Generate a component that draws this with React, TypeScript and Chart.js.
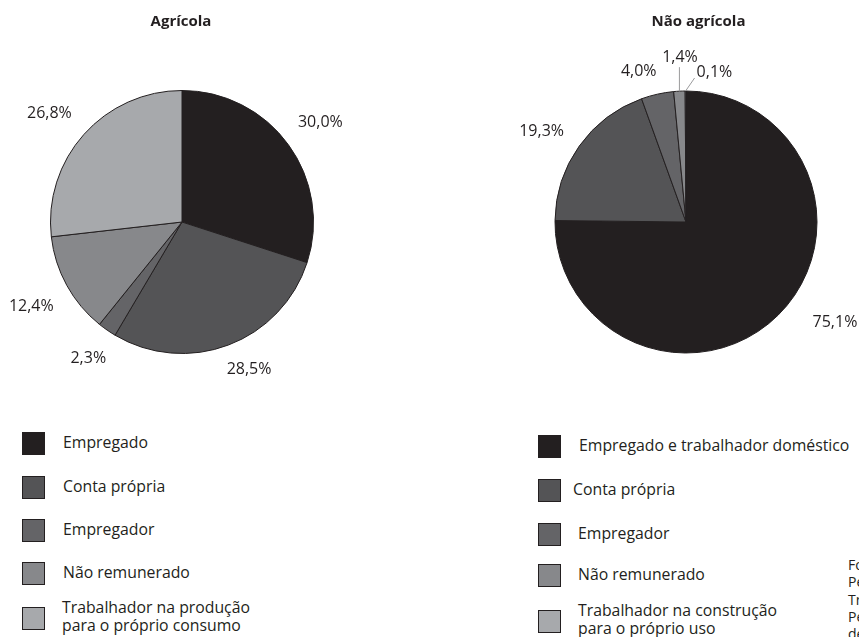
import React, { useEffect, useRef } from "react";
import { Chart, registerables } from "chart.js";

Chart.register(...registerables);

// ---- data ----
const agricolaTitle = "Agrícola";
const naoAgricolaTitle = "Não agrícola";

const agricolaLabels = [
  "Empregado",
  "Conta própria",
  "Empregador",
  "Não remunerado",
  "Trabalhador na produção\npara o próprio consumo",
];
const agricolaValues = [30.0, 28.5, 2.3, 12.4, 26.8];

const naoAgricolaLabels = [
  "Empregado e trabalhador doméstico",
  "Conta própria",
  "Empregador",
  "Não remunerado",
  "Trabalhador na construção\npara o próprio uso",
];
const naoAgricolaValues = [75.1, 19.3, 4.0, 1.4, 0.1];

const sliceColors = ["#231f20", "#545456", "#646467", "#87888b", "#a7a9ac"];

const footnoteLines = [
  "Fonte: IBGE, Diretoria de",
  "Pesquisas, Coordenação de",
  "Trabalho e Rendimento,",
  "Pesquisa Nacional por Amostra",
  "de Domicílios 2009.",
];

const FONT = '"Open Sans", "DejaVu Sans", sans-serif';
const INK = "#231f20";

const fmtPct = (v: number) => v.toFixed(1).replace(".", ",") + "%";

const pieLabelPlugin = {
  id: "pieLabels",
  afterDatasetsDraw(chart: any, _args: any, opts: any) {
    const { ctx } = chart;
    const meta = chart.getDatasetMeta(0);
    const data = chart.data.datasets[0].data as number[];
    const overrides = opts.overrides || {};
    ctx.save();
    ctx.font = opts.font;
    ctx.fillStyle = opts.color;
    const capHalf = opts.capHalf;
    meta.data.forEach((el: any, i: number) => {
      const { x, y, startAngle, endAngle, outerRadius } = el.getProps(
        ["x", "y", "startAngle", "endAngle", "outerRadius"],
        true
      );
      const ov = overrides[i] || {};
      const mid = (startAngle + endAngle) / 2 + ((ov.shiftDeg || 0) * Math.PI) / 180;
      const text = fmtPct(data[i]);
      const w = ctx.measureText(text).width;
      const ux = Math.cos(mid);
      const uy = Math.sin(mid);
      if (ov.leader) {
        const sx = x + ux * outerRadius;
        const sy = y + uy * outerRadius;
        const ex = sx + ov.leader[0];
        const ey = sy + ov.leader[1];
        ctx.strokeStyle = opts.leaderColor;
        ctx.lineWidth = 1;
        ctx.beginPath();
        ctx.moveTo(sx, sy);
        ctx.lineTo(ex, ey);
        ctx.stroke();
        ctx.textAlign = ov.align || "center";
        ctx.textBaseline = "alphabetic";
        ctx.fillText(text, ex + ov.text[0], ey + ov.text[1]);
      } else {
        const gap = ov.gap ?? opts.gap;
        const d = outerRadius + gap + (w / 2) * Math.abs(ux) + capHalf * Math.abs(uy);
        ctx.textAlign = "center";
        ctx.textBaseline = "alphabetic";
        ctx.fillText(text, x + ux * d, y + uy * d + capHalf);
      }
    });
    ctx.restore();
  },
};

function PieCanvas(props: {
  left: number;
  width: number;
  height: number;
  padding: { left: number; right: number; top: number; bottom: number };
  labels: string[];
  values: number[];
  overrides: Record<number, any>;
}) {
  const ref = useRef<HTMLCanvasElement | null>(null);
  useEffect(() => {
    if (!ref.current) return;
    const chart = new Chart(ref.current, {
      type: "pie",
      data: {
        labels: props.labels,
        datasets: [
          {
            data: props.values,
            backgroundColor: sliceColors,
            borderColor: INK,
            borderWidth: 1,
          },
        ],
      },
      options: {
        responsive: false,
        animation: false,
        layout: { padding: props.padding },
        plugins: {
          legend: { display: false },
          tooltip: { enabled: false },
          title: { display: false },
          pieLabels: {
            font: `16px ${FONT}`,
            color: INK,
            gap: 18,
            capHalf: 5.8,
            leaderColor: "#9a9a9c",
            overrides: props.overrides,
          },
        } as any,
      },
      plugins: [pieLabelPlugin as any],
    });
    return () => chart.destroy();
  }, []);
  return (
    <canvas
      ref={ref}
      width={props.width}
      height={props.height}
      style={{ position: "absolute", left: props.left, top: 0, width: props.width, height: props.height }}
    />
  );
}

function Legend(props: { boxX: number; textX: number[]; tops: number[]; labels: string[] }) {
  return (
    <>
      {props.labels.map((lab, i) => {
        const lines = lab.split("\n");
        const center = props.tops[i] + 11.5 + (lines.length > 1 ? -3 : -2);
        return (
          <React.Fragment key={i}>
            <div
              style={{
                position: "absolute",
                left: props.boxX,
                top: props.tops[i],
                width: 23,
                height: 23,
                boxSizing: "border-box",
                border: `1px solid ${INK}`,
                background: sliceColors[i],
              }}
            />
            <div
              style={{
                position: "absolute",
                left: props.textX[i],
                top: center,
                transform: "translateY(-50%)",
                fontSize: 15.8,
                lineHeight: "18px",
                whiteSpace: "pre",
                color: INK,
              }}
            >
              {lab}
            </div>
          </React.Fragment>
        );
      })}
    </>
  );
}

export default function App() {
  const titleStyle: React.CSSProperties = {
    position: "absolute",
    top: 10,
    fontSize: 15,
    fontWeight: 700,
    lineHeight: "20px",
    transform: "translateX(-50%)",
    whiteSpace: "nowrap",
    color: INK,
  };
  return (
    <div
      style={{
        position: "fixed",
        left: 0,
        top: 0,
        width: 859,
        height: 637,
        overflow: "hidden",
        background: "#ffffff",
        fontFamily: FONT,
      }}
    >
      <PieCanvas
        left={0}
        width={430}
        height={400}
        padding={{ left: 50, right: 116, top: 90, bottom: 46 }}
        labels={agricolaLabels}
        values={agricolaValues}
        overrides={{ 1: { shiftDeg: -3.9, gap: 15 }, 4: { shiftDeg: -2, gap: 20 } }}
      />
      <PieCanvas
        left={430}
        width={429}
        height={400}
        padding={{ left: 124.5, right: 41.5, top: 90.5, bottom: 46.5 }}
        labels={naoAgricolaLabels}
        values={naoAgricolaValues}
        overrides={{
          0: { shiftDeg: -11.7, gap: 26 },
          1: { shiftDeg: -3, gap: 18 },
          2: { shiftDeg: -4.7, gap: 17 },
          3: { leader: [0, -24], text: [0.6, -5.5], align: "center" },
          4: { leader: [9, -13], text: [2, -1.5], align: "left" },
        }}
      />
      <div style={{ ...titleStyle, left: 181 }}>{agricolaTitle}</div>
      <div style={{ ...titleStyle, left: 698.5 }}>{naoAgricolaTitle}</div>
      <Legend
        boxX={22}
        textX={[63, 63, 63, 63, 62]}
        tops={[432, 476, 519, 562, 607]}
        labels={agricolaLabels}
      />
      <Legend
        boxX={538}
        textX={[579, 573, 578, 578, 578]}
        tops={[435, 479, 523, 564, 610]}
        labels={naoAgricolaLabels}
      />
      <div
        style={{
          position: "absolute",
          left: 848,
          top: 556,
          fontSize: 14,
          lineHeight: "17.3px",
          whiteSpace: "pre",
          color: INK,
        }}
      >
        {footnoteLines.join("\n")}
      </div>
    </div>
  );
}
